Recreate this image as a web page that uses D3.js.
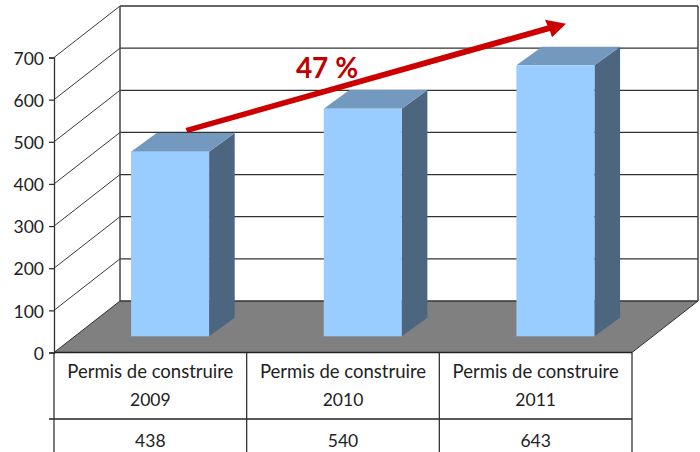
<!DOCTYPE html>
<html>
<head>
<meta charset="utf-8">
<title>Permis de construire</title>
<script src="https://d3js.org/d3.v7.min.js"></script>
<style>
  html, body { margin: 0; padding: 0; background: #fff; }
  svg { display: block; }
  text { font-family: Lato, sans-serif; fill: #222; }
</style>
</head>
<body>
<div id="chart"></div>
<script>
const categories = ['Permis de construire 2009', 'Permis de construire 2010', 'Permis de construire 2011'];
const values = [438, 540, 643];
const yTicks = [0, 100, 200, 300, 400, 500, 600, 700];
const growthLabel = '47 %';

const width = 700, height = 452;
const left = 54, right = 632, base = 352.5, top700 = 57.5;
const depthX = 66, depthY = -51.5;   // floor depth
const rowLine = 419;

const svg = d3.select('#chart').append('svg')
  .attr('width', width)
  .attr('height', height);

const x = d3.scaleBand().domain(categories).range([left, right]);
const y = d3.scaleLinear().domain([0, 700]).range([base, top700]);
const barW = x.bandwidth() * 0.405;
const z0 = 0.3145, z1 = 0.677;       // bar front and back, as a part of the depth

const line = d3.line();
const poly = pts => line(pts) + 'Z';

// floor
svg.append('path')
  .attr('d', poly([[left, base], [right, base], [right + depthX, base + depthY], [left + depthX, base + depthY]]))
  .attr('fill', '#808080');

// gridlines on the back wall and the side wall
const wall = svg.append('g');
wall.selectAll('line.back')
  .data(yTicks)
  .enter().append('line')
  .attr('class', 'back')
  .attr('x1', left + depthX)
  .attr('x2', right + depthX)
  .attr('y1', d => y(d) + depthY)
  .attr('y2', d => y(d) + depthY)
  .attr('stroke', '#333')
  .attr('stroke-width', 1.3);
wall.selectAll('line.side')
  .data(yTicks)
  .enter().append('line')
  .attr('class', 'side')
  .attr('x1', left)
  .attr('x2', left + depthX)
  .attr('y1', d => y(d))
  .attr('y2', d => y(d) + depthY)
  .attr('stroke', '#222')
  .attr('stroke-width', 0.9);
// wall frame
[left + depthX, right + depthX].forEach(px => {
  wall.append('line')
    .attr('x1', px).attr('x2', px)
    .attr('y1', y(0) + depthY).attr('y2', y(700) + depthY)
    .attr('stroke', '#444').attr('stroke-width', 1.5);
});
wall.append('line')
  .attr('x1', right).attr('x2', right + depthX)
  .attr('y1', y(0)).attr('y2', y(0) + depthY)
  .attr('stroke', '#222').attr('stroke-width', 0.9);

// 3D bars
const bars = svg.selectAll('g.bar')
  .data(categories.map((c, i) => ({ c: c, v: values[i] })))
  .enter().append('g')
  .attr('class', 'bar');

const fx = d => x(d.c) + x.bandwidth() / 2 - barW / 2 + depthX * z0 - 1;
const by = v => y(v) + depthY * z0;
const bdx = depthX * (z1 - z0) * 1.07, bdy = depthY * (z1 - z0);

bars.append('path')   // side
  .attr('fill', '#4d667f')
  .attr('d', d => poly([[fx(d) + barW, by(d.v)], [fx(d) + barW + bdx, by(d.v) + bdy],
                        [fx(d) + barW + bdx, by(0) + bdy], [fx(d) + barW, by(0)]]));
bars.append('path')   // top
  .attr('fill', '#7399bf')
  .attr('d', d => poly([[fx(d), by(d.v)], [fx(d) + bdx, by(d.v) + bdy],
                        [fx(d) + barW + bdx, by(d.v) + bdy], [fx(d) + barW, by(d.v)]]));
bars.append('rect')   // front
  .attr('fill', '#99ccff')
  .attr('x', fx)
  .attr('y', d => by(d.v))
  .attr('width', barW)
  .attr('height', d => by(0) - by(d.v));

// y axis with ticks
const yAxis = svg.append('g').attr('transform', `translate(${left},0)`)
  .call(d3.axisLeft(y).tickValues(yTicks).tickSize(5).tickPadding(5).tickFormat(d3.format('d')));
yAxis.selectAll('path, line').attr('stroke', '#333').attr('stroke-width', 1.3);
yAxis.selectAll('text')
  .style('font-family', 'Lato, sans-serif')
  .style('font-size', '17.5px')
  .attr('dy', '0.38em')
  .attr('fill', '#222');

// data table under the chart
const table = svg.append('g');
table.append('line')
  .attr('x1', left - 5).attr('x2', right)
  .attr('y1', rowLine).attr('y2', rowLine)
  .attr('stroke', '#222').attr('stroke-width', 1.3);
table.append('line')
  .attr('x1', left).attr('x2', right)
  .attr('y1', base).attr('y2', base)
  .attr('stroke', '#222').attr('stroke-width', 1.3);
const edges = x.domain().map(c => x(c)).concat([right]);
table.selectAll('line.col')
  .data(edges)
  .enter().append('line')
  .attr('class', 'col')
  .attr('x1', d => d).attr('x2', d => d)
  .attr('y1', base).attr('y2', height)
  .attr('stroke', '#333').attr('stroke-width', 1.3);

const cells = table.selectAll('g.cell')
  .data(categories.map((c, i) => ({ c: c, v: values[i] })))
  .enter().append('g')
  .attr('class', 'cell')
  .attr('text-anchor', 'middle')
  .style('font-size', '17.5px');
cells.append('text')
  .attr('x', d => x(d.c) + x.bandwidth() / 2)
  .attr('y', 378)
  .style('font-size', '18.5px')
  .text(d => d.c.slice(0, d.c.lastIndexOf(' ')));
cells.append('text')
  .attr('x', d => x(d.c) + x.bandwidth() / 2)
  .attr('y', 406)
  .text(d => d.c.slice(d.c.lastIndexOf(' ') + 1));
cells.append('text')
  .attr('x', d => x(d.c) + x.bandwidth() / 2)
  .attr('y', 447)
  .text(d => d.v);

// growth arrow
svg.append('path')
  .attr('fill', '#cc0000')
  .attr('d', poly([[185.5, 128], [187.5, 133], [550, 31], [552, 37.3], [566, 23.7], [545, 19.7], [547.5, 25.5]]));
svg.append('text')
  .attr('x', 327)
  .attr('y', 78)
  .attr('text-anchor', 'middle')
  .style('font-size', '28px')
  .style('font-weight', 700)
  .style('fill', '#c00000')
  .text(growthLabel);
</script>
</body>
</html>
